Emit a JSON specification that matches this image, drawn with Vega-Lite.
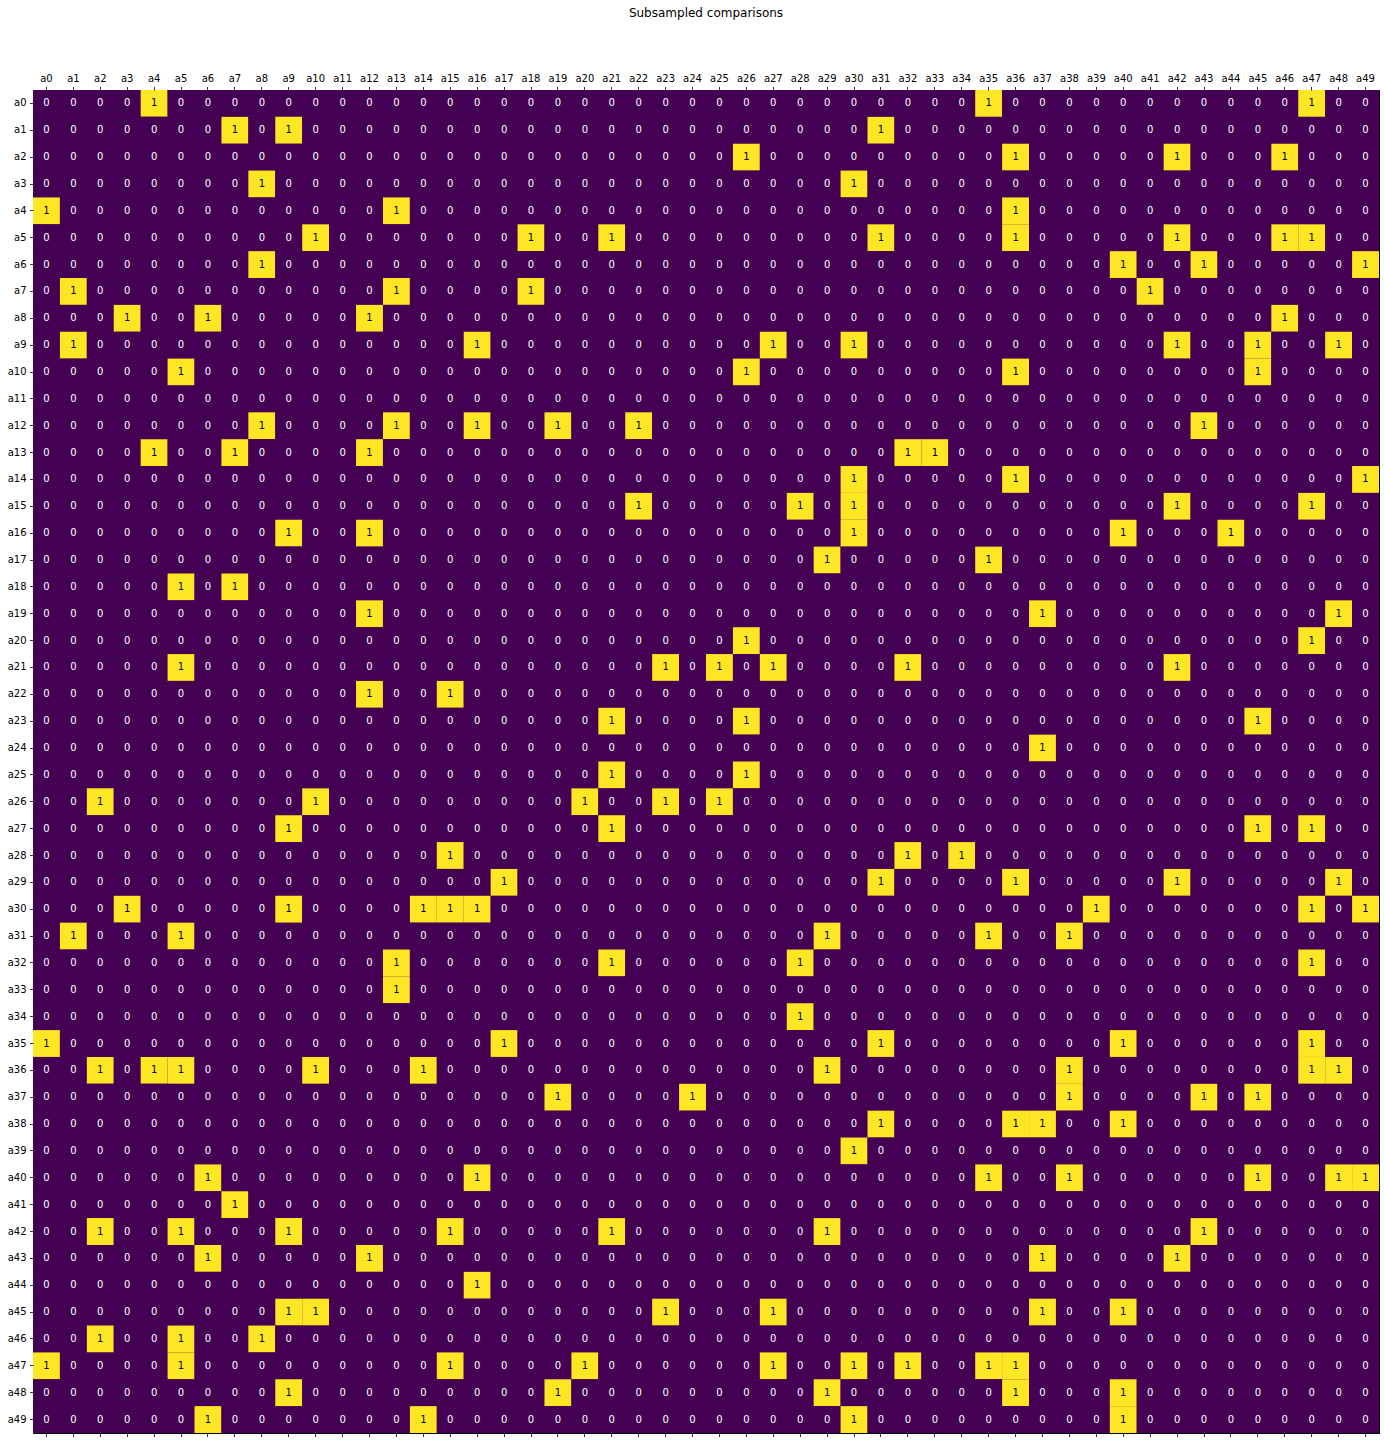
{
"$schema": "https://vega.github.io/schema/vega-lite/v6.json",
"width": 1346,
"height": 1343,
"autosize": "none",
"padding": {"left": 33, "top": 90, "right": 5, "bottom": 12},
"background": "white",
"title": {"text": "Subsampled comparisons", "font": "DejaVu Sans", "fontSize": 12, "fontWeight": "normal", "color": "black", "anchor": "middle", "offset": 53},
"config": {
  "view": {"stroke": "black", "strokeWidth": 1, "fill": "#440154"},
  "axis": {"labelFont": "DejaVu Sans", "labelFontSize": 10, "labelColor": "black", "tickColor": "black", "tickSize": 3.5, "tickWidth": 0.8, "domain": false, "labelPadding": 3.5, "title": null, "labelAngle": 0, "grid": false}
},
"data": {"values": [
{"r":"a0","a0":0,"a1":0,"a2":0,"a3":0,"a4":1,"a5":0,"a6":0,"a7":0,"a8":0,"a9":0,"a10":0,"a11":0,"a12":0,"a13":0,"a14":0,"a15":0,"a16":0,"a17":0,"a18":0,"a19":0,"a20":0,"a21":0,"a22":0,"a23":0,"a24":0,"a25":0,"a26":0,"a27":0,"a28":0,"a29":0,"a30":0,"a31":0,"a32":0,"a33":0,"a34":0,"a35":1,"a36":0,"a37":0,"a38":0,"a39":0,"a40":0,"a41":0,"a42":0,"a43":0,"a44":0,"a45":0,"a46":0,"a47":1,"a48":0,"a49":0},
{"r":"a1","a0":0,"a1":0,"a2":0,"a3":0,"a4":0,"a5":0,"a6":0,"a7":1,"a8":0,"a9":1,"a10":0,"a11":0,"a12":0,"a13":0,"a14":0,"a15":0,"a16":0,"a17":0,"a18":0,"a19":0,"a20":0,"a21":0,"a22":0,"a23":0,"a24":0,"a25":0,"a26":0,"a27":0,"a28":0,"a29":0,"a30":0,"a31":1,"a32":0,"a33":0,"a34":0,"a35":0,"a36":0,"a37":0,"a38":0,"a39":0,"a40":0,"a41":0,"a42":0,"a43":0,"a44":0,"a45":0,"a46":0,"a47":0,"a48":0,"a49":0},
{"r":"a2","a0":0,"a1":0,"a2":0,"a3":0,"a4":0,"a5":0,"a6":0,"a7":0,"a8":0,"a9":0,"a10":0,"a11":0,"a12":0,"a13":0,"a14":0,"a15":0,"a16":0,"a17":0,"a18":0,"a19":0,"a20":0,"a21":0,"a22":0,"a23":0,"a24":0,"a25":0,"a26":1,"a27":0,"a28":0,"a29":0,"a30":0,"a31":0,"a32":0,"a33":0,"a34":0,"a35":0,"a36":1,"a37":0,"a38":0,"a39":0,"a40":0,"a41":0,"a42":1,"a43":0,"a44":0,"a45":0,"a46":1,"a47":0,"a48":0,"a49":0},
{"r":"a3","a0":0,"a1":0,"a2":0,"a3":0,"a4":0,"a5":0,"a6":0,"a7":0,"a8":1,"a9":0,"a10":0,"a11":0,"a12":0,"a13":0,"a14":0,"a15":0,"a16":0,"a17":0,"a18":0,"a19":0,"a20":0,"a21":0,"a22":0,"a23":0,"a24":0,"a25":0,"a26":0,"a27":0,"a28":0,"a29":0,"a30":1,"a31":0,"a32":0,"a33":0,"a34":0,"a35":0,"a36":0,"a37":0,"a38":0,"a39":0,"a40":0,"a41":0,"a42":0,"a43":0,"a44":0,"a45":0,"a46":0,"a47":0,"a48":0,"a49":0},
{"r":"a4","a0":1,"a1":0,"a2":0,"a3":0,"a4":0,"a5":0,"a6":0,"a7":0,"a8":0,"a9":0,"a10":0,"a11":0,"a12":0,"a13":1,"a14":0,"a15":0,"a16":0,"a17":0,"a18":0,"a19":0,"a20":0,"a21":0,"a22":0,"a23":0,"a24":0,"a25":0,"a26":0,"a27":0,"a28":0,"a29":0,"a30":0,"a31":0,"a32":0,"a33":0,"a34":0,"a35":0,"a36":1,"a37":0,"a38":0,"a39":0,"a40":0,"a41":0,"a42":0,"a43":0,"a44":0,"a45":0,"a46":0,"a47":0,"a48":0,"a49":0},
{"r":"a5","a0":0,"a1":0,"a2":0,"a3":0,"a4":0,"a5":0,"a6":0,"a7":0,"a8":0,"a9":0,"a10":1,"a11":0,"a12":0,"a13":0,"a14":0,"a15":0,"a16":0,"a17":0,"a18":1,"a19":0,"a20":0,"a21":1,"a22":0,"a23":0,"a24":0,"a25":0,"a26":0,"a27":0,"a28":0,"a29":0,"a30":0,"a31":1,"a32":0,"a33":0,"a34":0,"a35":0,"a36":1,"a37":0,"a38":0,"a39":0,"a40":0,"a41":0,"a42":1,"a43":0,"a44":0,"a45":0,"a46":1,"a47":1,"a48":0,"a49":0},
{"r":"a6","a0":0,"a1":0,"a2":0,"a3":0,"a4":0,"a5":0,"a6":0,"a7":0,"a8":1,"a9":0,"a10":0,"a11":0,"a12":0,"a13":0,"a14":0,"a15":0,"a16":0,"a17":0,"a18":0,"a19":0,"a20":0,"a21":0,"a22":0,"a23":0,"a24":0,"a25":0,"a26":0,"a27":0,"a28":0,"a29":0,"a30":0,"a31":0,"a32":0,"a33":0,"a34":0,"a35":0,"a36":0,"a37":0,"a38":0,"a39":0,"a40":1,"a41":0,"a42":0,"a43":1,"a44":0,"a45":0,"a46":0,"a47":0,"a48":0,"a49":1},
{"r":"a7","a0":0,"a1":1,"a2":0,"a3":0,"a4":0,"a5":0,"a6":0,"a7":0,"a8":0,"a9":0,"a10":0,"a11":0,"a12":0,"a13":1,"a14":0,"a15":0,"a16":0,"a17":0,"a18":1,"a19":0,"a20":0,"a21":0,"a22":0,"a23":0,"a24":0,"a25":0,"a26":0,"a27":0,"a28":0,"a29":0,"a30":0,"a31":0,"a32":0,"a33":0,"a34":0,"a35":0,"a36":0,"a37":0,"a38":0,"a39":0,"a40":0,"a41":1,"a42":0,"a43":0,"a44":0,"a45":0,"a46":0,"a47":0,"a48":0,"a49":0},
{"r":"a8","a0":0,"a1":0,"a2":0,"a3":1,"a4":0,"a5":0,"a6":1,"a7":0,"a8":0,"a9":0,"a10":0,"a11":0,"a12":1,"a13":0,"a14":0,"a15":0,"a16":0,"a17":0,"a18":0,"a19":0,"a20":0,"a21":0,"a22":0,"a23":0,"a24":0,"a25":0,"a26":0,"a27":0,"a28":0,"a29":0,"a30":0,"a31":0,"a32":0,"a33":0,"a34":0,"a35":0,"a36":0,"a37":0,"a38":0,"a39":0,"a40":0,"a41":0,"a42":0,"a43":0,"a44":0,"a45":0,"a46":1,"a47":0,"a48":0,"a49":0},
{"r":"a9","a0":0,"a1":1,"a2":0,"a3":0,"a4":0,"a5":0,"a6":0,"a7":0,"a8":0,"a9":0,"a10":0,"a11":0,"a12":0,"a13":0,"a14":0,"a15":0,"a16":1,"a17":0,"a18":0,"a19":0,"a20":0,"a21":0,"a22":0,"a23":0,"a24":0,"a25":0,"a26":0,"a27":1,"a28":0,"a29":0,"a30":1,"a31":0,"a32":0,"a33":0,"a34":0,"a35":0,"a36":0,"a37":0,"a38":0,"a39":0,"a40":0,"a41":0,"a42":1,"a43":0,"a44":0,"a45":1,"a46":0,"a47":0,"a48":1,"a49":0},
{"r":"a10","a0":0,"a1":0,"a2":0,"a3":0,"a4":0,"a5":1,"a6":0,"a7":0,"a8":0,"a9":0,"a10":0,"a11":0,"a12":0,"a13":0,"a14":0,"a15":0,"a16":0,"a17":0,"a18":0,"a19":0,"a20":0,"a21":0,"a22":0,"a23":0,"a24":0,"a25":0,"a26":1,"a27":0,"a28":0,"a29":0,"a30":0,"a31":0,"a32":0,"a33":0,"a34":0,"a35":0,"a36":1,"a37":0,"a38":0,"a39":0,"a40":0,"a41":0,"a42":0,"a43":0,"a44":0,"a45":1,"a46":0,"a47":0,"a48":0,"a49":0},
{"r":"a11","a0":0,"a1":0,"a2":0,"a3":0,"a4":0,"a5":0,"a6":0,"a7":0,"a8":0,"a9":0,"a10":0,"a11":0,"a12":0,"a13":0,"a14":0,"a15":0,"a16":0,"a17":0,"a18":0,"a19":0,"a20":0,"a21":0,"a22":0,"a23":0,"a24":0,"a25":0,"a26":0,"a27":0,"a28":0,"a29":0,"a30":0,"a31":0,"a32":0,"a33":0,"a34":0,"a35":0,"a36":0,"a37":0,"a38":0,"a39":0,"a40":0,"a41":0,"a42":0,"a43":0,"a44":0,"a45":0,"a46":0,"a47":0,"a48":0,"a49":0},
{"r":"a12","a0":0,"a1":0,"a2":0,"a3":0,"a4":0,"a5":0,"a6":0,"a7":0,"a8":1,"a9":0,"a10":0,"a11":0,"a12":0,"a13":1,"a14":0,"a15":0,"a16":1,"a17":0,"a18":0,"a19":1,"a20":0,"a21":0,"a22":1,"a23":0,"a24":0,"a25":0,"a26":0,"a27":0,"a28":0,"a29":0,"a30":0,"a31":0,"a32":0,"a33":0,"a34":0,"a35":0,"a36":0,"a37":0,"a38":0,"a39":0,"a40":0,"a41":0,"a42":0,"a43":1,"a44":0,"a45":0,"a46":0,"a47":0,"a48":0,"a49":0},
{"r":"a13","a0":0,"a1":0,"a2":0,"a3":0,"a4":1,"a5":0,"a6":0,"a7":1,"a8":0,"a9":0,"a10":0,"a11":0,"a12":1,"a13":0,"a14":0,"a15":0,"a16":0,"a17":0,"a18":0,"a19":0,"a20":0,"a21":0,"a22":0,"a23":0,"a24":0,"a25":0,"a26":0,"a27":0,"a28":0,"a29":0,"a30":0,"a31":0,"a32":1,"a33":1,"a34":0,"a35":0,"a36":0,"a37":0,"a38":0,"a39":0,"a40":0,"a41":0,"a42":0,"a43":0,"a44":0,"a45":0,"a46":0,"a47":0,"a48":0,"a49":0},
{"r":"a14","a0":0,"a1":0,"a2":0,"a3":0,"a4":0,"a5":0,"a6":0,"a7":0,"a8":0,"a9":0,"a10":0,"a11":0,"a12":0,"a13":0,"a14":0,"a15":0,"a16":0,"a17":0,"a18":0,"a19":0,"a20":0,"a21":0,"a22":0,"a23":0,"a24":0,"a25":0,"a26":0,"a27":0,"a28":0,"a29":0,"a30":1,"a31":0,"a32":0,"a33":0,"a34":0,"a35":0,"a36":1,"a37":0,"a38":0,"a39":0,"a40":0,"a41":0,"a42":0,"a43":0,"a44":0,"a45":0,"a46":0,"a47":0,"a48":0,"a49":1},
{"r":"a15","a0":0,"a1":0,"a2":0,"a3":0,"a4":0,"a5":0,"a6":0,"a7":0,"a8":0,"a9":0,"a10":0,"a11":0,"a12":0,"a13":0,"a14":0,"a15":0,"a16":0,"a17":0,"a18":0,"a19":0,"a20":0,"a21":0,"a22":1,"a23":0,"a24":0,"a25":0,"a26":0,"a27":0,"a28":1,"a29":0,"a30":1,"a31":0,"a32":0,"a33":0,"a34":0,"a35":0,"a36":0,"a37":0,"a38":0,"a39":0,"a40":0,"a41":0,"a42":1,"a43":0,"a44":0,"a45":0,"a46":0,"a47":1,"a48":0,"a49":0},
{"r":"a16","a0":0,"a1":0,"a2":0,"a3":0,"a4":0,"a5":0,"a6":0,"a7":0,"a8":0,"a9":1,"a10":0,"a11":0,"a12":1,"a13":0,"a14":0,"a15":0,"a16":0,"a17":0,"a18":0,"a19":0,"a20":0,"a21":0,"a22":0,"a23":0,"a24":0,"a25":0,"a26":0,"a27":0,"a28":0,"a29":0,"a30":1,"a31":0,"a32":0,"a33":0,"a34":0,"a35":0,"a36":0,"a37":0,"a38":0,"a39":0,"a40":1,"a41":0,"a42":0,"a43":0,"a44":1,"a45":0,"a46":0,"a47":0,"a48":0,"a49":0},
{"r":"a17","a0":0,"a1":0,"a2":0,"a3":0,"a4":0,"a5":0,"a6":0,"a7":0,"a8":0,"a9":0,"a10":0,"a11":0,"a12":0,"a13":0,"a14":0,"a15":0,"a16":0,"a17":0,"a18":0,"a19":0,"a20":0,"a21":0,"a22":0,"a23":0,"a24":0,"a25":0,"a26":0,"a27":0,"a28":0,"a29":1,"a30":0,"a31":0,"a32":0,"a33":0,"a34":0,"a35":1,"a36":0,"a37":0,"a38":0,"a39":0,"a40":0,"a41":0,"a42":0,"a43":0,"a44":0,"a45":0,"a46":0,"a47":0,"a48":0,"a49":0},
{"r":"a18","a0":0,"a1":0,"a2":0,"a3":0,"a4":0,"a5":1,"a6":0,"a7":1,"a8":0,"a9":0,"a10":0,"a11":0,"a12":0,"a13":0,"a14":0,"a15":0,"a16":0,"a17":0,"a18":0,"a19":0,"a20":0,"a21":0,"a22":0,"a23":0,"a24":0,"a25":0,"a26":0,"a27":0,"a28":0,"a29":0,"a30":0,"a31":0,"a32":0,"a33":0,"a34":0,"a35":0,"a36":0,"a37":0,"a38":0,"a39":0,"a40":0,"a41":0,"a42":0,"a43":0,"a44":0,"a45":0,"a46":0,"a47":0,"a48":0,"a49":0},
{"r":"a19","a0":0,"a1":0,"a2":0,"a3":0,"a4":0,"a5":0,"a6":0,"a7":0,"a8":0,"a9":0,"a10":0,"a11":0,"a12":1,"a13":0,"a14":0,"a15":0,"a16":0,"a17":0,"a18":0,"a19":0,"a20":0,"a21":0,"a22":0,"a23":0,"a24":0,"a25":0,"a26":0,"a27":0,"a28":0,"a29":0,"a30":0,"a31":0,"a32":0,"a33":0,"a34":0,"a35":0,"a36":0,"a37":1,"a38":0,"a39":0,"a40":0,"a41":0,"a42":0,"a43":0,"a44":0,"a45":0,"a46":0,"a47":0,"a48":1,"a49":0},
{"r":"a20","a0":0,"a1":0,"a2":0,"a3":0,"a4":0,"a5":0,"a6":0,"a7":0,"a8":0,"a9":0,"a10":0,"a11":0,"a12":0,"a13":0,"a14":0,"a15":0,"a16":0,"a17":0,"a18":0,"a19":0,"a20":0,"a21":0,"a22":0,"a23":0,"a24":0,"a25":0,"a26":1,"a27":0,"a28":0,"a29":0,"a30":0,"a31":0,"a32":0,"a33":0,"a34":0,"a35":0,"a36":0,"a37":0,"a38":0,"a39":0,"a40":0,"a41":0,"a42":0,"a43":0,"a44":0,"a45":0,"a46":0,"a47":1,"a48":0,"a49":0},
{"r":"a21","a0":0,"a1":0,"a2":0,"a3":0,"a4":0,"a5":1,"a6":0,"a7":0,"a8":0,"a9":0,"a10":0,"a11":0,"a12":0,"a13":0,"a14":0,"a15":0,"a16":0,"a17":0,"a18":0,"a19":0,"a20":0,"a21":0,"a22":0,"a23":1,"a24":0,"a25":1,"a26":0,"a27":1,"a28":0,"a29":0,"a30":0,"a31":0,"a32":1,"a33":0,"a34":0,"a35":0,"a36":0,"a37":0,"a38":0,"a39":0,"a40":0,"a41":0,"a42":1,"a43":0,"a44":0,"a45":0,"a46":0,"a47":0,"a48":0,"a49":0},
{"r":"a22","a0":0,"a1":0,"a2":0,"a3":0,"a4":0,"a5":0,"a6":0,"a7":0,"a8":0,"a9":0,"a10":0,"a11":0,"a12":1,"a13":0,"a14":0,"a15":1,"a16":0,"a17":0,"a18":0,"a19":0,"a20":0,"a21":0,"a22":0,"a23":0,"a24":0,"a25":0,"a26":0,"a27":0,"a28":0,"a29":0,"a30":0,"a31":0,"a32":0,"a33":0,"a34":0,"a35":0,"a36":0,"a37":0,"a38":0,"a39":0,"a40":0,"a41":0,"a42":0,"a43":0,"a44":0,"a45":0,"a46":0,"a47":0,"a48":0,"a49":0},
{"r":"a23","a0":0,"a1":0,"a2":0,"a3":0,"a4":0,"a5":0,"a6":0,"a7":0,"a8":0,"a9":0,"a10":0,"a11":0,"a12":0,"a13":0,"a14":0,"a15":0,"a16":0,"a17":0,"a18":0,"a19":0,"a20":0,"a21":1,"a22":0,"a23":0,"a24":0,"a25":0,"a26":1,"a27":0,"a28":0,"a29":0,"a30":0,"a31":0,"a32":0,"a33":0,"a34":0,"a35":0,"a36":0,"a37":0,"a38":0,"a39":0,"a40":0,"a41":0,"a42":0,"a43":0,"a44":0,"a45":1,"a46":0,"a47":0,"a48":0,"a49":0},
{"r":"a24","a0":0,"a1":0,"a2":0,"a3":0,"a4":0,"a5":0,"a6":0,"a7":0,"a8":0,"a9":0,"a10":0,"a11":0,"a12":0,"a13":0,"a14":0,"a15":0,"a16":0,"a17":0,"a18":0,"a19":0,"a20":0,"a21":0,"a22":0,"a23":0,"a24":0,"a25":0,"a26":0,"a27":0,"a28":0,"a29":0,"a30":0,"a31":0,"a32":0,"a33":0,"a34":0,"a35":0,"a36":0,"a37":1,"a38":0,"a39":0,"a40":0,"a41":0,"a42":0,"a43":0,"a44":0,"a45":0,"a46":0,"a47":0,"a48":0,"a49":0},
{"r":"a25","a0":0,"a1":0,"a2":0,"a3":0,"a4":0,"a5":0,"a6":0,"a7":0,"a8":0,"a9":0,"a10":0,"a11":0,"a12":0,"a13":0,"a14":0,"a15":0,"a16":0,"a17":0,"a18":0,"a19":0,"a20":0,"a21":1,"a22":0,"a23":0,"a24":0,"a25":0,"a26":1,"a27":0,"a28":0,"a29":0,"a30":0,"a31":0,"a32":0,"a33":0,"a34":0,"a35":0,"a36":0,"a37":0,"a38":0,"a39":0,"a40":0,"a41":0,"a42":0,"a43":0,"a44":0,"a45":0,"a46":0,"a47":0,"a48":0,"a49":0},
{"r":"a26","a0":0,"a1":0,"a2":1,"a3":0,"a4":0,"a5":0,"a6":0,"a7":0,"a8":0,"a9":0,"a10":1,"a11":0,"a12":0,"a13":0,"a14":0,"a15":0,"a16":0,"a17":0,"a18":0,"a19":0,"a20":1,"a21":0,"a22":0,"a23":1,"a24":0,"a25":1,"a26":0,"a27":0,"a28":0,"a29":0,"a30":0,"a31":0,"a32":0,"a33":0,"a34":0,"a35":0,"a36":0,"a37":0,"a38":0,"a39":0,"a40":0,"a41":0,"a42":0,"a43":0,"a44":0,"a45":0,"a46":0,"a47":0,"a48":0,"a49":0},
{"r":"a27","a0":0,"a1":0,"a2":0,"a3":0,"a4":0,"a5":0,"a6":0,"a7":0,"a8":0,"a9":1,"a10":0,"a11":0,"a12":0,"a13":0,"a14":0,"a15":0,"a16":0,"a17":0,"a18":0,"a19":0,"a20":0,"a21":1,"a22":0,"a23":0,"a24":0,"a25":0,"a26":0,"a27":0,"a28":0,"a29":0,"a30":0,"a31":0,"a32":0,"a33":0,"a34":0,"a35":0,"a36":0,"a37":0,"a38":0,"a39":0,"a40":0,"a41":0,"a42":0,"a43":0,"a44":0,"a45":1,"a46":0,"a47":1,"a48":0,"a49":0},
{"r":"a28","a0":0,"a1":0,"a2":0,"a3":0,"a4":0,"a5":0,"a6":0,"a7":0,"a8":0,"a9":0,"a10":0,"a11":0,"a12":0,"a13":0,"a14":0,"a15":1,"a16":0,"a17":0,"a18":0,"a19":0,"a20":0,"a21":0,"a22":0,"a23":0,"a24":0,"a25":0,"a26":0,"a27":0,"a28":0,"a29":0,"a30":0,"a31":0,"a32":1,"a33":0,"a34":1,"a35":0,"a36":0,"a37":0,"a38":0,"a39":0,"a40":0,"a41":0,"a42":0,"a43":0,"a44":0,"a45":0,"a46":0,"a47":0,"a48":0,"a49":0},
{"r":"a29","a0":0,"a1":0,"a2":0,"a3":0,"a4":0,"a5":0,"a6":0,"a7":0,"a8":0,"a9":0,"a10":0,"a11":0,"a12":0,"a13":0,"a14":0,"a15":0,"a16":0,"a17":1,"a18":0,"a19":0,"a20":0,"a21":0,"a22":0,"a23":0,"a24":0,"a25":0,"a26":0,"a27":0,"a28":0,"a29":0,"a30":0,"a31":1,"a32":0,"a33":0,"a34":0,"a35":0,"a36":1,"a37":0,"a38":0,"a39":0,"a40":0,"a41":0,"a42":1,"a43":0,"a44":0,"a45":0,"a46":0,"a47":0,"a48":1,"a49":0},
{"r":"a30","a0":0,"a1":0,"a2":0,"a3":1,"a4":0,"a5":0,"a6":0,"a7":0,"a8":0,"a9":1,"a10":0,"a11":0,"a12":0,"a13":0,"a14":1,"a15":1,"a16":1,"a17":0,"a18":0,"a19":0,"a20":0,"a21":0,"a22":0,"a23":0,"a24":0,"a25":0,"a26":0,"a27":0,"a28":0,"a29":0,"a30":0,"a31":0,"a32":0,"a33":0,"a34":0,"a35":0,"a36":0,"a37":0,"a38":0,"a39":1,"a40":0,"a41":0,"a42":0,"a43":0,"a44":0,"a45":0,"a46":0,"a47":1,"a48":0,"a49":1},
{"r":"a31","a0":0,"a1":1,"a2":0,"a3":0,"a4":0,"a5":1,"a6":0,"a7":0,"a8":0,"a9":0,"a10":0,"a11":0,"a12":0,"a13":0,"a14":0,"a15":0,"a16":0,"a17":0,"a18":0,"a19":0,"a20":0,"a21":0,"a22":0,"a23":0,"a24":0,"a25":0,"a26":0,"a27":0,"a28":0,"a29":1,"a30":0,"a31":0,"a32":0,"a33":0,"a34":0,"a35":1,"a36":0,"a37":0,"a38":1,"a39":0,"a40":0,"a41":0,"a42":0,"a43":0,"a44":0,"a45":0,"a46":0,"a47":0,"a48":0,"a49":0},
{"r":"a32","a0":0,"a1":0,"a2":0,"a3":0,"a4":0,"a5":0,"a6":0,"a7":0,"a8":0,"a9":0,"a10":0,"a11":0,"a12":0,"a13":1,"a14":0,"a15":0,"a16":0,"a17":0,"a18":0,"a19":0,"a20":0,"a21":1,"a22":0,"a23":0,"a24":0,"a25":0,"a26":0,"a27":0,"a28":1,"a29":0,"a30":0,"a31":0,"a32":0,"a33":0,"a34":0,"a35":0,"a36":0,"a37":0,"a38":0,"a39":0,"a40":0,"a41":0,"a42":0,"a43":0,"a44":0,"a45":0,"a46":0,"a47":1,"a48":0,"a49":0},
{"r":"a33","a0":0,"a1":0,"a2":0,"a3":0,"a4":0,"a5":0,"a6":0,"a7":0,"a8":0,"a9":0,"a10":0,"a11":0,"a12":0,"a13":1,"a14":0,"a15":0,"a16":0,"a17":0,"a18":0,"a19":0,"a20":0,"a21":0,"a22":0,"a23":0,"a24":0,"a25":0,"a26":0,"a27":0,"a28":0,"a29":0,"a30":0,"a31":0,"a32":0,"a33":0,"a34":0,"a35":0,"a36":0,"a37":0,"a38":0,"a39":0,"a40":0,"a41":0,"a42":0,"a43":0,"a44":0,"a45":0,"a46":0,"a47":0,"a48":0,"a49":0},
{"r":"a34","a0":0,"a1":0,"a2":0,"a3":0,"a4":0,"a5":0,"a6":0,"a7":0,"a8":0,"a9":0,"a10":0,"a11":0,"a12":0,"a13":0,"a14":0,"a15":0,"a16":0,"a17":0,"a18":0,"a19":0,"a20":0,"a21":0,"a22":0,"a23":0,"a24":0,"a25":0,"a26":0,"a27":0,"a28":1,"a29":0,"a30":0,"a31":0,"a32":0,"a33":0,"a34":0,"a35":0,"a36":0,"a37":0,"a38":0,"a39":0,"a40":0,"a41":0,"a42":0,"a43":0,"a44":0,"a45":0,"a46":0,"a47":0,"a48":0,"a49":0},
{"r":"a35","a0":1,"a1":0,"a2":0,"a3":0,"a4":0,"a5":0,"a6":0,"a7":0,"a8":0,"a9":0,"a10":0,"a11":0,"a12":0,"a13":0,"a14":0,"a15":0,"a16":0,"a17":1,"a18":0,"a19":0,"a20":0,"a21":0,"a22":0,"a23":0,"a24":0,"a25":0,"a26":0,"a27":0,"a28":0,"a29":0,"a30":0,"a31":1,"a32":0,"a33":0,"a34":0,"a35":0,"a36":0,"a37":0,"a38":0,"a39":0,"a40":1,"a41":0,"a42":0,"a43":0,"a44":0,"a45":0,"a46":0,"a47":1,"a48":0,"a49":0},
{"r":"a36","a0":0,"a1":0,"a2":1,"a3":0,"a4":1,"a5":1,"a6":0,"a7":0,"a8":0,"a9":0,"a10":1,"a11":0,"a12":0,"a13":0,"a14":1,"a15":0,"a16":0,"a17":0,"a18":0,"a19":0,"a20":0,"a21":0,"a22":0,"a23":0,"a24":0,"a25":0,"a26":0,"a27":0,"a28":0,"a29":1,"a30":0,"a31":0,"a32":0,"a33":0,"a34":0,"a35":0,"a36":0,"a37":0,"a38":1,"a39":0,"a40":0,"a41":0,"a42":0,"a43":0,"a44":0,"a45":0,"a46":0,"a47":1,"a48":1,"a49":0},
{"r":"a37","a0":0,"a1":0,"a2":0,"a3":0,"a4":0,"a5":0,"a6":0,"a7":0,"a8":0,"a9":0,"a10":0,"a11":0,"a12":0,"a13":0,"a14":0,"a15":0,"a16":0,"a17":0,"a18":0,"a19":1,"a20":0,"a21":0,"a22":0,"a23":0,"a24":1,"a25":0,"a26":0,"a27":0,"a28":0,"a29":0,"a30":0,"a31":0,"a32":0,"a33":0,"a34":0,"a35":0,"a36":0,"a37":0,"a38":1,"a39":0,"a40":0,"a41":0,"a42":0,"a43":1,"a44":0,"a45":1,"a46":0,"a47":0,"a48":0,"a49":0},
{"r":"a38","a0":0,"a1":0,"a2":0,"a3":0,"a4":0,"a5":0,"a6":0,"a7":0,"a8":0,"a9":0,"a10":0,"a11":0,"a12":0,"a13":0,"a14":0,"a15":0,"a16":0,"a17":0,"a18":0,"a19":0,"a20":0,"a21":0,"a22":0,"a23":0,"a24":0,"a25":0,"a26":0,"a27":0,"a28":0,"a29":0,"a30":0,"a31":1,"a32":0,"a33":0,"a34":0,"a35":0,"a36":1,"a37":1,"a38":0,"a39":0,"a40":1,"a41":0,"a42":0,"a43":0,"a44":0,"a45":0,"a46":0,"a47":0,"a48":0,"a49":0},
{"r":"a39","a0":0,"a1":0,"a2":0,"a3":0,"a4":0,"a5":0,"a6":0,"a7":0,"a8":0,"a9":0,"a10":0,"a11":0,"a12":0,"a13":0,"a14":0,"a15":0,"a16":0,"a17":0,"a18":0,"a19":0,"a20":0,"a21":0,"a22":0,"a23":0,"a24":0,"a25":0,"a26":0,"a27":0,"a28":0,"a29":0,"a30":1,"a31":0,"a32":0,"a33":0,"a34":0,"a35":0,"a36":0,"a37":0,"a38":0,"a39":0,"a40":0,"a41":0,"a42":0,"a43":0,"a44":0,"a45":0,"a46":0,"a47":0,"a48":0,"a49":0},
{"r":"a40","a0":0,"a1":0,"a2":0,"a3":0,"a4":0,"a5":0,"a6":1,"a7":0,"a8":0,"a9":0,"a10":0,"a11":0,"a12":0,"a13":0,"a14":0,"a15":0,"a16":1,"a17":0,"a18":0,"a19":0,"a20":0,"a21":0,"a22":0,"a23":0,"a24":0,"a25":0,"a26":0,"a27":0,"a28":0,"a29":0,"a30":0,"a31":0,"a32":0,"a33":0,"a34":0,"a35":1,"a36":0,"a37":0,"a38":1,"a39":0,"a40":0,"a41":0,"a42":0,"a43":0,"a44":0,"a45":1,"a46":0,"a47":0,"a48":1,"a49":1},
{"r":"a41","a0":0,"a1":0,"a2":0,"a3":0,"a4":0,"a5":0,"a6":0,"a7":1,"a8":0,"a9":0,"a10":0,"a11":0,"a12":0,"a13":0,"a14":0,"a15":0,"a16":0,"a17":0,"a18":0,"a19":0,"a20":0,"a21":0,"a22":0,"a23":0,"a24":0,"a25":0,"a26":0,"a27":0,"a28":0,"a29":0,"a30":0,"a31":0,"a32":0,"a33":0,"a34":0,"a35":0,"a36":0,"a37":0,"a38":0,"a39":0,"a40":0,"a41":0,"a42":0,"a43":0,"a44":0,"a45":0,"a46":0,"a47":0,"a48":0,"a49":0},
{"r":"a42","a0":0,"a1":0,"a2":1,"a3":0,"a4":0,"a5":1,"a6":0,"a7":0,"a8":0,"a9":1,"a10":0,"a11":0,"a12":0,"a13":0,"a14":0,"a15":1,"a16":0,"a17":0,"a18":0,"a19":0,"a20":0,"a21":1,"a22":0,"a23":0,"a24":0,"a25":0,"a26":0,"a27":0,"a28":0,"a29":1,"a30":0,"a31":0,"a32":0,"a33":0,"a34":0,"a35":0,"a36":0,"a37":0,"a38":0,"a39":0,"a40":0,"a41":0,"a42":0,"a43":1,"a44":0,"a45":0,"a46":0,"a47":0,"a48":0,"a49":0},
{"r":"a43","a0":0,"a1":0,"a2":0,"a3":0,"a4":0,"a5":0,"a6":1,"a7":0,"a8":0,"a9":0,"a10":0,"a11":0,"a12":1,"a13":0,"a14":0,"a15":0,"a16":0,"a17":0,"a18":0,"a19":0,"a20":0,"a21":0,"a22":0,"a23":0,"a24":0,"a25":0,"a26":0,"a27":0,"a28":0,"a29":0,"a30":0,"a31":0,"a32":0,"a33":0,"a34":0,"a35":0,"a36":0,"a37":1,"a38":0,"a39":0,"a40":0,"a41":0,"a42":1,"a43":0,"a44":0,"a45":0,"a46":0,"a47":0,"a48":0,"a49":0},
{"r":"a44","a0":0,"a1":0,"a2":0,"a3":0,"a4":0,"a5":0,"a6":0,"a7":0,"a8":0,"a9":0,"a10":0,"a11":0,"a12":0,"a13":0,"a14":0,"a15":0,"a16":1,"a17":0,"a18":0,"a19":0,"a20":0,"a21":0,"a22":0,"a23":0,"a24":0,"a25":0,"a26":0,"a27":0,"a28":0,"a29":0,"a30":0,"a31":0,"a32":0,"a33":0,"a34":0,"a35":0,"a36":0,"a37":0,"a38":0,"a39":0,"a40":0,"a41":0,"a42":0,"a43":0,"a44":0,"a45":0,"a46":0,"a47":0,"a48":0,"a49":0},
{"r":"a45","a0":0,"a1":0,"a2":0,"a3":0,"a4":0,"a5":0,"a6":0,"a7":0,"a8":0,"a9":1,"a10":1,"a11":0,"a12":0,"a13":0,"a14":0,"a15":0,"a16":0,"a17":0,"a18":0,"a19":0,"a20":0,"a21":0,"a22":0,"a23":1,"a24":0,"a25":0,"a26":0,"a27":1,"a28":0,"a29":0,"a30":0,"a31":0,"a32":0,"a33":0,"a34":0,"a35":0,"a36":0,"a37":1,"a38":0,"a39":0,"a40":1,"a41":0,"a42":0,"a43":0,"a44":0,"a45":0,"a46":0,"a47":0,"a48":0,"a49":0},
{"r":"a46","a0":0,"a1":0,"a2":1,"a3":0,"a4":0,"a5":1,"a6":0,"a7":0,"a8":1,"a9":0,"a10":0,"a11":0,"a12":0,"a13":0,"a14":0,"a15":0,"a16":0,"a17":0,"a18":0,"a19":0,"a20":0,"a21":0,"a22":0,"a23":0,"a24":0,"a25":0,"a26":0,"a27":0,"a28":0,"a29":0,"a30":0,"a31":0,"a32":0,"a33":0,"a34":0,"a35":0,"a36":0,"a37":0,"a38":0,"a39":0,"a40":0,"a41":0,"a42":0,"a43":0,"a44":0,"a45":0,"a46":0,"a47":0,"a48":0,"a49":0},
{"r":"a47","a0":1,"a1":0,"a2":0,"a3":0,"a4":0,"a5":1,"a6":0,"a7":0,"a8":0,"a9":0,"a10":0,"a11":0,"a12":0,"a13":0,"a14":0,"a15":1,"a16":0,"a17":0,"a18":0,"a19":0,"a20":1,"a21":0,"a22":0,"a23":0,"a24":0,"a25":0,"a26":0,"a27":1,"a28":0,"a29":0,"a30":1,"a31":0,"a32":1,"a33":0,"a34":0,"a35":1,"a36":1,"a37":0,"a38":0,"a39":0,"a40":0,"a41":0,"a42":0,"a43":0,"a44":0,"a45":0,"a46":0,"a47":0,"a48":0,"a49":0},
{"r":"a48","a0":0,"a1":0,"a2":0,"a3":0,"a4":0,"a5":0,"a6":0,"a7":0,"a8":0,"a9":1,"a10":0,"a11":0,"a12":0,"a13":0,"a14":0,"a15":0,"a16":0,"a17":0,"a18":0,"a19":1,"a20":0,"a21":0,"a22":0,"a23":0,"a24":0,"a25":0,"a26":0,"a27":0,"a28":0,"a29":1,"a30":0,"a31":0,"a32":0,"a33":0,"a34":0,"a35":0,"a36":1,"a37":0,"a38":0,"a39":0,"a40":1,"a41":0,"a42":0,"a43":0,"a44":0,"a45":0,"a46":0,"a47":0,"a48":0,"a49":0},
{"r":"a49","a0":0,"a1":0,"a2":0,"a3":0,"a4":0,"a5":0,"a6":1,"a7":0,"a8":0,"a9":0,"a10":0,"a11":0,"a12":0,"a13":0,"a14":1,"a15":0,"a16":0,"a17":0,"a18":0,"a19":0,"a20":0,"a21":0,"a22":0,"a23":0,"a24":0,"a25":0,"a26":0,"a27":0,"a28":0,"a29":0,"a30":1,"a31":0,"a32":0,"a33":0,"a34":0,"a35":0,"a36":0,"a37":0,"a38":0,"a39":0,"a40":1,"a41":0,"a42":0,"a43":0,"a44":0,"a45":0,"a46":0,"a47":0,"a48":0,"a49":0}
]},
"transform": [{"fold": ["a0","a1","a2","a3","a4","a5","a6","a7","a8","a9","a10","a11","a12","a13","a14","a15","a16","a17","a18","a19","a20","a21","a22","a23","a24","a25","a26","a27","a28","a29","a30","a31","a32","a33","a34","a35","a36","a37","a38","a39","a40","a41","a42","a43","a44","a45","a46","a47","a48","a49"], "as": ["c", "v"]}],
"encoding": {
  "y": {"field": "r", "type": "nominal", "scale": {"domain": ["a0","a1","a2","a3","a4","a5","a6","a7","a8","a9","a10","a11","a12","a13","a14","a15","a16","a17","a18","a19","a20","a21","a22","a23","a24","a25","a26","a27","a28","a29","a30","a31","a32","a33","a34","a35","a36","a37","a38","a39","a40","a41","a42","a43","a44","a45","a46","a47","a48","a49"], "paddingInner": 0, "paddingOuter": 0}, "axis": {"orient": "left", "title": null}}
},
"layer": [
  {
    "mark": {"type": "rect", "strokeWidth": 0},
    "encoding": {
      "x": {"field": "c", "type": "nominal", "scale": {"domain": ["a0","a1","a2","a3","a4","a5","a6","a7","a8","a9","a10","a11","a12","a13","a14","a15","a16","a17","a18","a19","a20","a21","a22","a23","a24","a25","a26","a27","a28","a29","a30","a31","a32","a33","a34","a35","a36","a37","a38","a39","a40","a41","a42","a43","a44","a45","a46","a47","a48","a49"], "paddingInner": 0, "paddingOuter": 0}, "axis": {"orient": "top", "title": null}},
      "color": {"field": "v", "type": "quantitative", "scale": {"domain": [0, 1], "range": ["#440154", "#fde725"]}, "legend": null}
    }
  },
  {
    "mark": {"type": "text", "font": "DejaVu Sans", "fontSize": 10, "align": "center", "baseline": "middle"},
    "encoding": {
      "x": {"field": "c", "type": "nominal", "axis": {"orient": "bottom", "labels": false, "title": null}},
      "text": {"field": "v", "type": "quantitative"},
      "color": {"condition": {"test": "datum.v === 1", "value": "black"}, "value": "white"}
    }
  }
],
"resolve": {"axis": {"x": "independent"}}
}
